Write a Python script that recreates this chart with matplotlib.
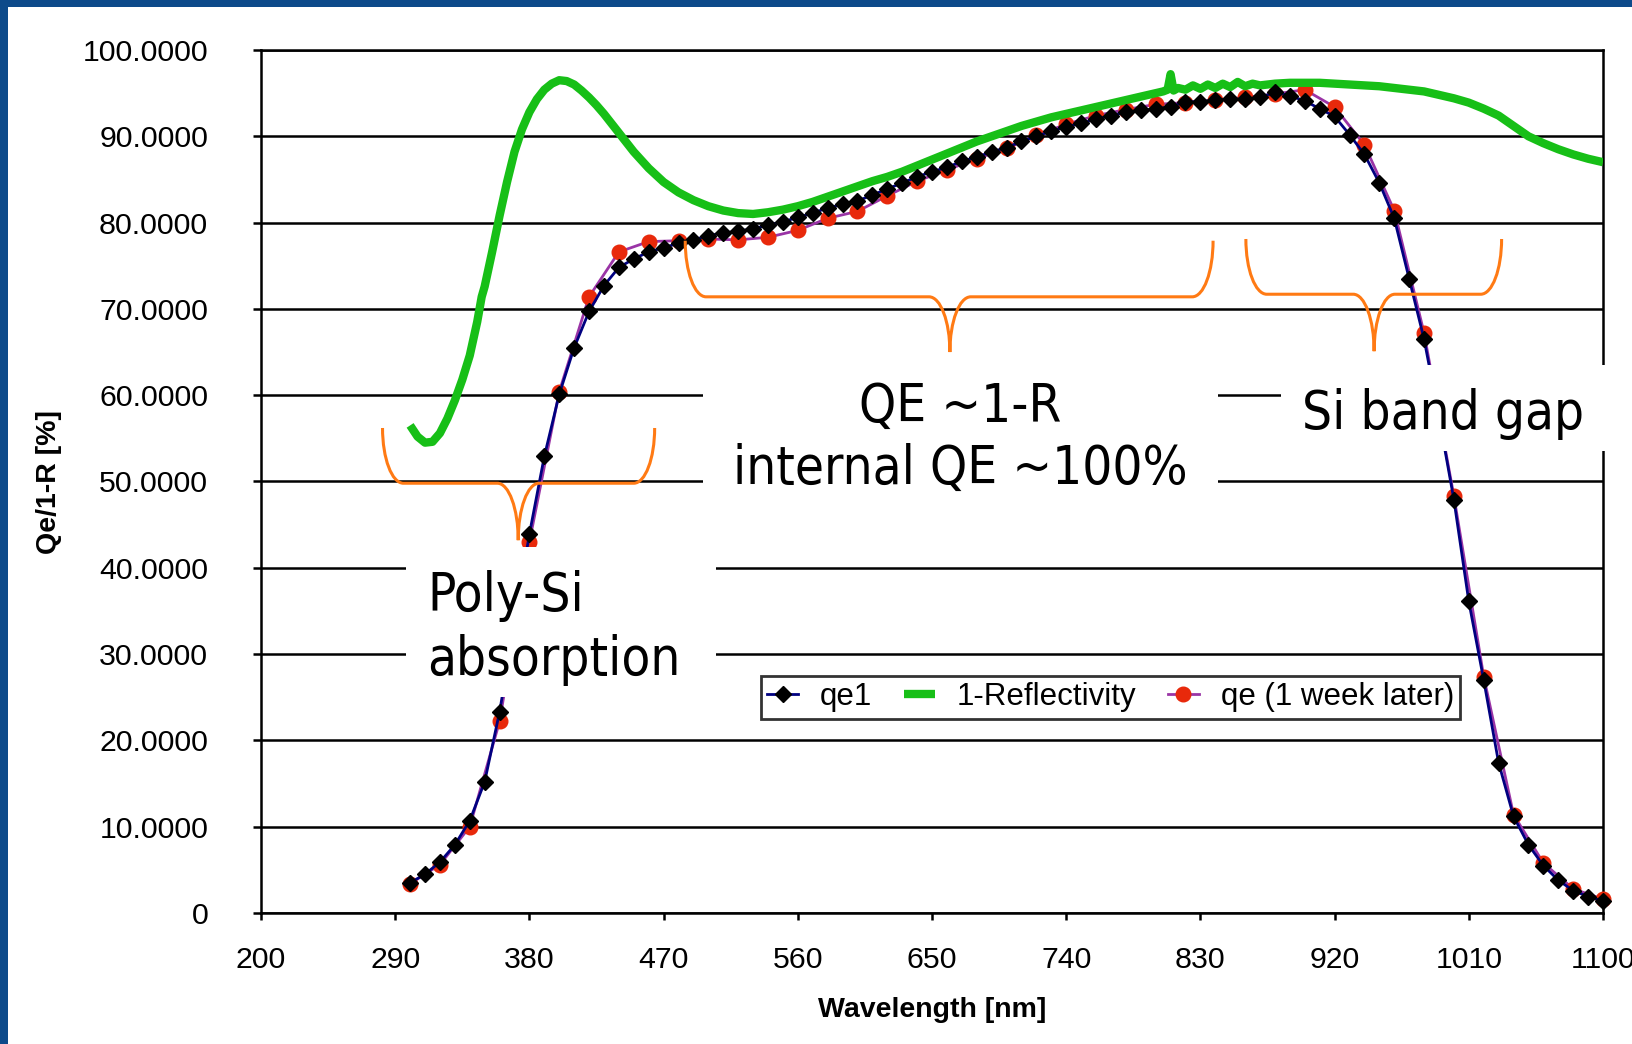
import matplotlib
matplotlib.use("Agg")
import matplotlib.pyplot as plt
from matplotlib import font_manager
from matplotlib.patches import Rectangle, PathPatch
from matplotlib.path import Path
from matplotlib.ticker import FuncFormatter

# ---- data ----
wl_qe1 = list(range(300, 1101, 10))
qe1 = [3.5, 4.5, 5.9, 7.9, 10.7, 15.2, 23.3, 33.5, 43.9, 52.9,
       60.1, 65.5, 69.7, 72.7, 74.8, 75.8, 76.6, 77.1, 77.6, 78.0,
       78.5, 78.8, 79.0, 79.3, 79.7, 80.1, 80.6, 81.1, 81.7, 82.1,
       82.5, 83.2, 83.9, 84.6, 85.3, 85.9, 86.4, 87.1, 87.6, 88.2,
       88.7, 89.4, 90.0, 90.6, 91.1, 91.5, 92.0, 92.4, 92.8, 93.0,
       93.2, 93.4, 94.0, 94.0, 94.2, 94.3, 94.3, 94.5, 95.1, 94.7,
       94.1, 93.2, 92.3, 90.2, 87.9, 84.6, 80.5, 73.5, 66.5, 57.5,
       47.9, 36.1, 27.0, 17.4, 11.2, 7.9, 5.5, 3.8, 2.6, 1.9, 1.4]

wl_week = list(range(300, 1101, 20))
qe_week = [3.4, 5.6, 10.0, 22.2, 43.0, 60.4, 71.4, 76.6, 77.8, 77.9,
           78.1, 78.0, 78.3, 79.1, 80.5, 81.3, 83.1, 84.8, 86.1, 87.4,
           88.6, 90.1, 91.4, 92.4, 93.1, 93.7, 93.9, 94.2, 94.5, 94.9,
           95.4, 93.4, 89.0, 81.4, 67.2, 48.3, 27.4, 11.4, 5.8, 2.8, 1.6]

wl_refl = [300, 305, 310, 315, 320, 325, 330, 335, 340, 345, 348, 350, 355,
           360, 365, 370, 375, 380, 385, 390, 395, 400, 405, 410, 415, 420,
           425, 430, 435, 440, 445, 450, 460, 470, 480, 490, 500, 510, 520,
           530, 540, 550, 560, 570, 580, 590, 600, 610, 620, 630, 640, 650,
           660, 670, 680, 690, 700, 710, 720, 730, 740, 750, 760, 770, 780,
           790, 800, 805, 808, 810, 812, 815, 820, 825, 830, 835, 840, 845,
           850, 855, 860, 865, 870, 880, 890, 900, 910, 920, 930, 940, 950,
           960, 970, 980, 990, 1000, 1010, 1020, 1030, 1040, 1050, 1060,
           1070, 1080, 1090, 1100]
refl = [56.5, 55.2, 54.5, 54.6, 55.6, 57.3, 59.4, 61.8, 64.6, 68.5, 71.4,
        72.6, 76.6, 80.8, 84.7, 88.2, 90.8, 92.8, 94.3, 95.4, 96.1, 96.5,
        96.4, 96.0, 95.3, 94.5, 93.6, 92.6, 91.5, 90.4, 89.3, 88.2, 86.3,
        84.7, 83.5, 82.6, 81.9, 81.4, 81.1, 81.0, 81.2, 81.5, 81.9, 82.4,
        83.0, 83.6, 84.2, 84.8, 85.3, 85.9, 86.6, 87.3, 88.0, 88.7, 89.4,
        90.0, 90.6, 91.2, 91.7, 92.2, 92.6, 93.0, 93.4, 93.8, 94.2, 94.6,
        95.0, 95.2, 95.4, 97.2, 95.3, 95.6, 95.4, 95.9, 95.5, 96.0, 95.6,
        96.1, 95.7, 96.3, 95.8, 96.1, 95.9, 96.1, 96.2, 96.2, 96.2, 96.1,
        96.0, 95.9, 95.8, 95.6, 95.4, 95.2, 94.8, 94.4, 93.9, 93.2, 92.4,
        91.2, 90.0, 89.2, 88.5, 87.9, 87.4, 87.0]

x_ticks = list(range(200, 1101, 90))
y_ticks = list(range(0, 101, 10))

# braces: (left, right, tip x, top y, bar y, tip y)
braces = [(281.5, 464.0, 372.5, 56.2, 49.8, 43.2),
          (484.5, 838.5, 662.0, 77.9, 71.4, 65.0),
          (860.5, 1032.0, 946.5, 78.1, 71.7, 65.1)]

# ---- fonts ----
names = {f.name for f in font_manager.fontManager.ttflist}
cond = [f for f in font_manager.fontManager.ttflist
        if f.name.startswith("DejaVu Sans") and "ondensed" in (f.fname + str(f.stretch))]
if "DejaVu Sans Condensed" in names:
    ann_font = dict(family="DejaVu Sans Condensed", size=38)
elif cond:
    ann_font = dict(family="DejaVu Sans", stretch="condensed", size=38)
else:
    ann_font = dict(family="DejaVu Sans", size=34)

plt.rcParams["font.family"] = ["Liberation Sans", "DejaVu Sans"]

fig = plt.figure(figsize=(16.33, 10.44), dpi=100, facecolor="#0D4A8A")
fig.add_artist(Rectangle((8 / 1633, 0), 1, (1044 - 7) / 1044,
                         transform=fig.transFigure, facecolor="white",
                         edgecolor="none", zorder=-5))
ax = fig.add_axes([261 / 1633, 1 - 913 / 1044, 1342 / 1633, 863 / 1044])

ax.set_xlim(200, 1100)
ax.set_ylim(0, 100)
ax.set_xticks(x_ticks)
ax.set_yticks(y_ticks)
ax.yaxis.set_major_formatter(FuncFormatter(lambda v, p: "0" if v == 0 else f"{v:.4f}"))
ax.tick_params(axis="y", direction="out", length=6, width=1.8, pad=32, labelsize=21.8)
ax.tick_params(axis="x", direction="out", length=5, width=1.8, pad=19, labelsize=21.8)
for s in ax.spines.values():
    s.set_linewidth(1.8)
ax.grid(axis="y", color="black", linewidth=1.8, zorder=1)
ax.set_axisbelow(True)

ax.set_xlabel("Wavelength [nm]", fontsize=20.5, fontweight="bold")
ax.set_ylabel("Qe/1-R [%]", fontsize=20.5, fontweight="bold")
ax.xaxis.set_label_coords(0.5, -0.097)
ax.yaxis.set_label_coords(-0.148, 0.5)

l_week, = ax.plot(wl_week, qe_week, color="#9A34A6", lw=2, marker="o", ms=10.5,
                  mfc="#E8290B", mec="#E8290B", zorder=3, clip_on=False,
                  label="qe (1 week later)")
l_refl, = ax.plot(wl_refl, refl, color="#17BF17", lw=6, zorder=4,
                  solid_joinstyle="round", solid_capstyle="butt",
                  label="1-Reflectivity")
l_qe1, = ax.plot(wl_qe1, qe1, color="#000080", lw=2, marker="D", ms=8.5,
                 mfc="black", mec="black", zorder=5, clip_on=False, label="qe1")

# orange braces
k = 0.5523
rx = 14
for x0, x1, xc, yt, ym, yp in braces:
    verts = [(x0, yt),
             (x0, yt - k * (yt - ym)), (x0 + rx - k * rx, ym), (x0 + rx, ym),
             (xc - rx, ym),
             (xc - rx + k * rx, ym), (xc, yp + k * (ym - yp)), (xc, yp),
             (xc, yp + k * (ym - yp)), (xc + rx - k * rx, ym), (xc + rx, ym),
             (x1 - rx, ym),
             (x1 - rx + k * rx, ym), (x1, yt - k * (yt - ym)), (x1, yt)]
    codes = [Path.MOVETO] + [Path.CURVE4] * 3 + [Path.LINETO] + [Path.CURVE4] * 6 + \
            [Path.LINETO] + [Path.CURVE4] * 3
    ax.add_patch(PathPatch(Path(verts, codes), facecolor="none", edgecolor="#FF7A14",
                           lw=2.2, zorder=6))

# white label boxes with annotation text
boxes = [(0.108, 0.250, 0.231, 0.174),
         (0.329, 0.484, 0.384, 0.148),
         (0.760, 0.535, 0.250, 0.100)]
for bx, by, bw, bh in boxes:
    ax.add_patch(Rectangle((bx, by), bw, bh, transform=ax.transAxes, facecolor="white",
                           edgecolor="none", zorder=7, clip_on=False))

ax.text(0.1237, 0.350, "Poly-Si", transform=ax.transAxes, va="baseline", ha="left",
        zorder=8, **ann_font)
ax.text(0.1237, 0.276, "absorption", transform=ax.transAxes, va="baseline", ha="left",
        zorder=8, **ann_font)
ax.text(0.521, 0.569, "QE ~1-R", transform=ax.transAxes, va="baseline", ha="center",
        zorder=8, **ann_font)
ax.text(0.521, 0.497, "internal QE ~100%", transform=ax.transAxes, va="baseline",
        ha="center", zorder=8, **ann_font)
ax.text(0.776, 0.561, "Si band gap", transform=ax.transAxes, va="baseline", ha="left",
        zorder=8, **ann_font)

leg = ax.legend(handles=[l_qe1, l_refl, l_week], loc="center",
                bbox_to_anchor=(0.633, 0.25), ncol=3, fontsize=22.5, frameon=True,
                fancybox=False, edgecolor="black", handlelength=1.0,
                handletextpad=0.7, columnspacing=1.0, borderpad=0.2,
                borderaxespad=0)
leg.get_frame().set_linewidth(2)
leg.set_zorder(9)

fig.savefig("out.png", dpi=100, facecolor=fig.get_facecolor())
